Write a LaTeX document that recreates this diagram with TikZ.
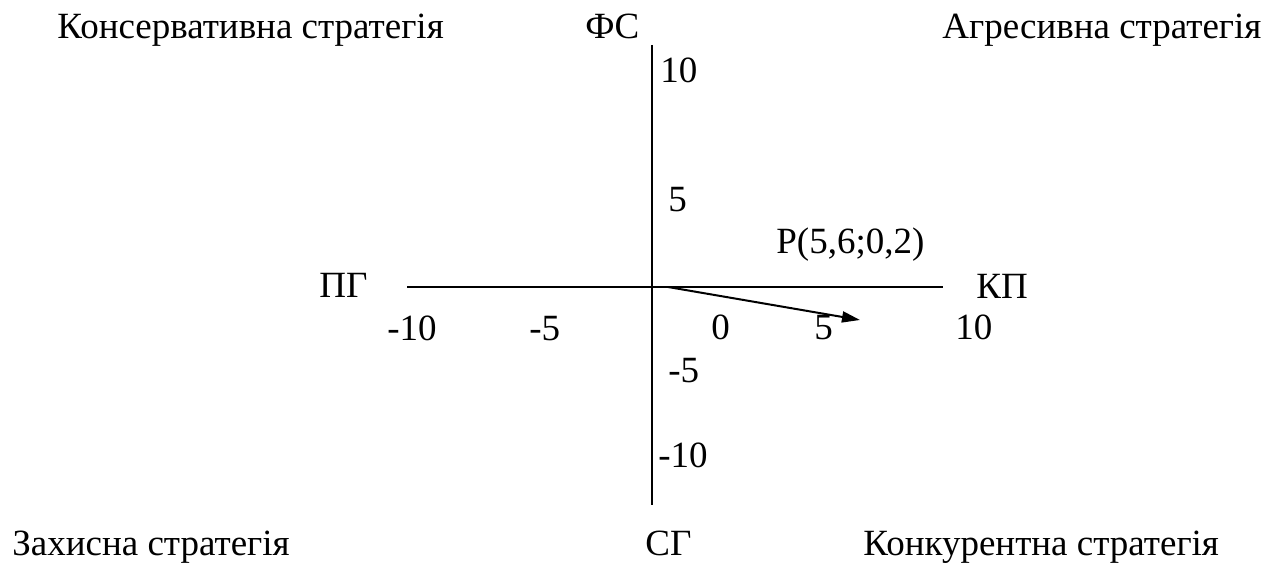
\documentclass[tikz,border=0pt]{standalone}
\usepackage{fontspec}
\setmainfont{Liberation Serif}
\usepackage{tikz}
\usetikzlibrary{arrows.meta,positioning}

\begin{document}
\begin{tikzpicture}[
    x=0.5pt, y=-0.5pt,
    label/.style={anchor=base west, inner sep=0pt, font=\fontsize{18.5}{22}\selectfont},
    axis/.style={line width=1pt},
    arrow/.style={-{Triangle[length=9pt,width=5.5pt]}, line width=1pt}
]
    \useasboundingbox (0,0) rectangle (1272,565);

    % Axes ends
    \coordinate (left) at (407,287);
    \coordinate (right) at (943,287);
    \coordinate (top) at (652,45);
    \coordinate (bottom) at (652,505);
    \coordinate (origin) at (668,287);
    \coordinate (point) at (860,320);

    % Quadrant labels
    \node[label] (cons) at (57,39) {Консервативна стратегія};
    \node[label] (agr) at (942,39) {Агресивна стратегія};
    \node[label] (def) at (12,555) {Захисна стратегія};
    \node[label] (comp) at (863,555) {Конкурентна стратегія};

    % Axis names
    \node[label] (fs) at (585,39) {ФС};
    \node[label] (sg) at (645,555) {СГ};
    \node[label] (pg) at (319,298) {ПГ};
    \node[label] (kp) at (976,299) {КП};

    % Ticks
    \node[label] (y10) at (660,83) {10};
    \node[label] (y5) at (668,212) {5};
    \node[label] (ym5) at (668,383) {-5};
    \node[label] (ym10) at (658,468) {-10};
    \node[label] (xm10) at (387,341) {-10};
    \node[label] (xm5) at (529,341) {-5};
    \node[label] (x0) at (711,340) {0};
    \node[label] (x5) at (814,340) {5};
    \node[label] (x10) at (955,340) {10};

    % Point
    \node[label] (pname) at (776,254) {P(5,6;0,2)};

    % Lines
    \draw[axis] (left) -- (right);
    \draw[axis] (top) -- (bottom);
    \draw[arrow] (origin) -- (point);
\end{tikzpicture}
\end{document}
